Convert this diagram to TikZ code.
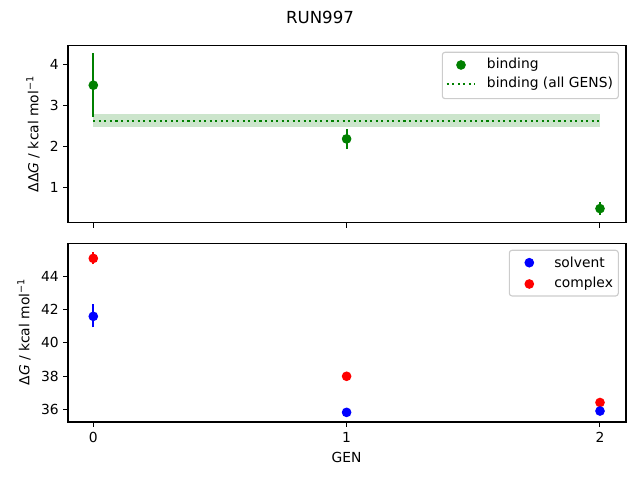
\documentclass[tikz,border=0pt]{standalone}
\usepackage{fontspec}
\setmainfont{DejaVu Sans}
\begin{document}
\begin{tikzpicture}[x=0.01in,y=0.01in,
  every node/.style={font=\fontsize{10}{12}\selectfont,inner sep=0pt},
  frame/.style={line width=0.8pt},
  tick/.style={line width=0.8pt},
  dot/.style={circle,minimum size=7pt,inner sep=0pt},
  errbar/.style={line width=1.5pt},
  legendbox/.style={draw=black!20,fill=white,fill opacity=0.8,rounded corners=2pt,line width=0.8pt}]
\definecolor{mplgreen}{rgb}{0,0.5,0}
\useasboundingbox (0,0) rectangle (640,480);
% title
\node[font=\fontsize{12}{14}\selectfont] (title) at (320,463) {RUN997};
% top axes
\draw[fill=mplgreen!20,draw=none] (93.3,251.7+41*2.46) rectangle (600,251.7+41*2.79);
\draw[mplgreen,line width=1.5pt,dash pattern=on 1.5pt off 2.5pt] (93.3,251.7+41*2.62)--(600,251.7+41*2.62);
\draw[mplgreen,errbar] (93.3,251.7+41*2.71)--(93.3,251.7+41*4.27);
\draw[mplgreen,errbar] (346.6,251.7+41*1.93)--(346.6,251.7+41*2.43);
\draw[mplgreen,errbar] (600,251.7+41*0.32)--(600,251.7+41*0.64);
\node[dot,fill=mplgreen] (b0) at (93.3,251.7+41*3.49) {};
\node[dot,fill=mplgreen] (b1) at (346.6,251.7+41*2.18) {};
\node[dot,fill=mplgreen] (b2) at (600,251.7+41*0.48) {};
\draw[frame] (68,257.3) rectangle (626,434.7);
\foreach \v in {1,2,3,4}
  {\draw[tick] (68,251.7+41*\v)--++(-4.86,0);
   \node[anchor=east] at (59,251.7+41*\v) {\v};}
\foreach \g in {0,1,2}
  \draw[tick] (93.3+253.3*\g,257.3)--++(0,-4.86);
\node[rotate=90] (ylabtop) at (33,346) {ΔΔ\textit{G} / kcal mol\textsuperscript{−1}};
% top legend
\draw[legendbox] (442.3,381.3) rectangle (618.3,427.7);
\node[dot,fill=mplgreen] (lb) at (461,415) {};
\node[anchor=west] at (486.7,415) {binding};
\draw[mplgreen,line width=1.5pt,dash pattern=on 1.5pt off 2.5pt] (446.7,396.3)--(475,396.3);
\node[anchor=west] at (486.7,396.3) {binding (all GENS)};
% bottom axes
\draw[red,errbar] (93.3,70.3+16.7*8.7)--(93.3,70.3+16.7*9.45);
\draw[blue,errbar] (93.3,70.3+16.7*4.93)--(93.3,70.3+16.7*6.3);
\node[dot,fill=red] (c0) at (93.3,70.3+16.7*9.06) {};
\node[dot,fill=blue] (s0) at (93.3,70.3+16.7*5.59) {};
\node[dot,fill=red] (c1) at (346.6,70.3+16.7*2.0) {};
\node[dot,fill=blue] (s1) at (346.6,70.3+16.7*-0.16) {};
\node[dot,fill=red] (c2) at (600,70.3+16.7*0.43) {};
\node[dot,fill=blue] (s2) at (600,70.3+16.7*-0.08) {};
\draw[frame] (68,58) rectangle (626,236.3);
\foreach \v in {36,38,40,42,44}
  {\draw[tick] (68,70.3+16.7*\v-16.7*36)--++(-4.86,0);
   \node[anchor=east] at (59,70.3+16.7*\v-16.7*36) {\v};}
\foreach \g in {0,1,2}
  {\draw[tick] (93.3+253.3*\g,58)--++(0,-4.86);
   \node[anchor=north] at (93.3+253.3*\g,48.3) {\g};}
\node (xlab) at (346.6,23) {GEN};
\node[rotate=90] (ylabbot) at (24,148) {Δ\textit{G} / kcal mol\textsuperscript{−1}};
% bottom legend
\draw[legendbox] (509.3,184) rectangle (618.3,229.7);
\node[dot,fill=blue] (ls) at (529.3,217.3) {};
\node[anchor=west] at (554,217.3) {solvent};
\node[dot,fill=red] (lc) at (529.3,196) {};
\node[anchor=west] at (554,196) {complex};
\end{tikzpicture}
\end{document}
